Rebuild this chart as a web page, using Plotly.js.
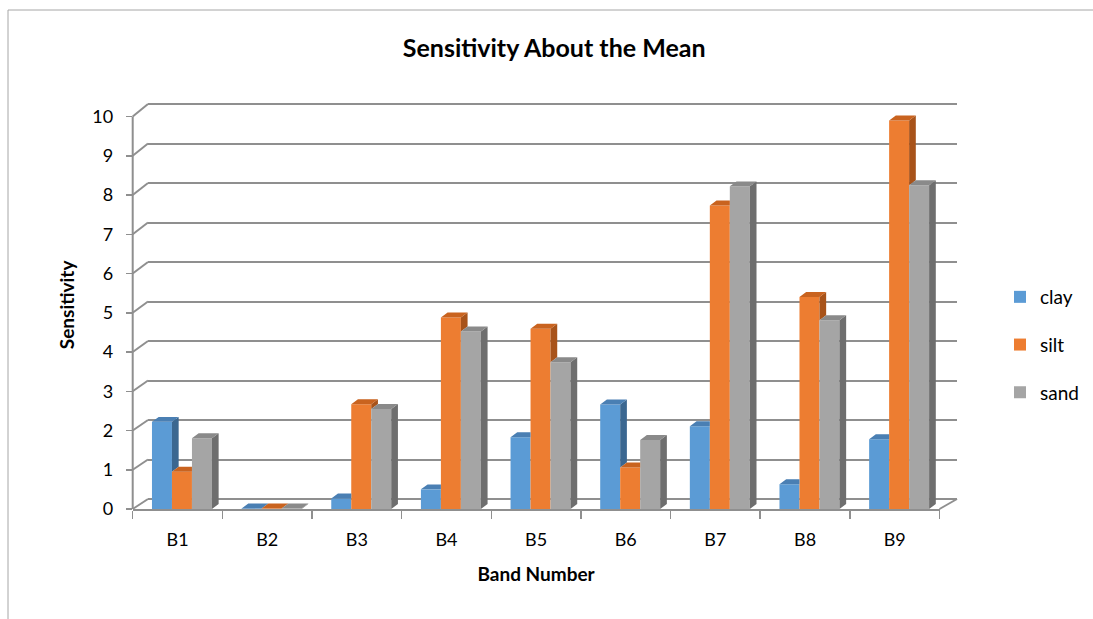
<!DOCTYPE html>
<html>
<head>
<meta charset="utf-8">
<script src="https://cdn.plot.ly/plotly-3.0.1.min.js"></script>
<style>html,body{margin:0;padding:0;background:#fff;}#chart{width:1093px;height:619px;}</style>
</head>
<body>
<div id="chart"></div>
<script>
// ---- data ----
const categories = ['B1', 'B2', 'B3', 'B4', 'B5', 'B6', 'B7', 'B8', 'B9'];
const clay = [2.22, 0.01, 0.27, 0.50, 1.83, 2.66, 2.11, 0.63, 1.78];
const silt = [0.95, 0.01, 2.67, 4.88, 4.59, 1.06, 7.73, 5.40, 9.90];
const sand = [1.80, 0.01, 2.55, 4.52, 3.74, 1.76, 8.22, 4.81, 8.25];
const seriesNames = ['clay', 'silt', 'sand'];
const yTicks = [0, 1, 2, 3, 4, 5, 6, 7, 8, 9, 10];

// ---- styling ----
const W = 1093, H = 619;
const frontColors = ['#5b9bd5', '#ed7d31', '#a5a5a5'];
const topColors = ['#4a7fb3', '#c9631f', '#8a8a8a'];
const sideColors = ['#3b6790', '#a8531a', '#6e6e6e'];
const gridColor = '#8f8f8f';
const fontFam = 'Lato, "Liberation Sans", sans-serif';

const fx = p => p / W;
const fy = p => 1 - p / H;

// front (bars) plot area in pixels
const FX0 = 132.7, FX1 = 939.5, FY0 = 509, FYU = 39.25; // px per unit
const YMAX = 10.4;
// back wall plot area in pixels
const BX0 = 148, BX1 = 957, BY0 = 499, BY10 = 104;
const BPAD = 0.2;
const BYU = (BY0 - BY10) / 10;

const barW = 0.223;
const offsets = [-0.285, -0.062, 0.161];
const DX = 0.0747, DY = 0.127;

const allVals = [clay, silt, sand];
const xIdx = categories.map((c, i) => i);

const traces = [];
traces.push({x: [null], y: [null], type: 'scatter', mode: 'lines', xaxis: 'x', yaxis: 'y', showlegend: false, hoverinfo: 'skip'});

allVals.forEach((vals, s) => {
  traces.push({
    type: 'bar', name: seriesNames[s], x: xIdx, y: vals,
    xaxis: 'x2', yaxis: 'y2', width: barW, offset: offsets[s],
    marker: {color: frontColors[s], line: {width: 0}},
    legendgroup: seriesNames[s], hoverinfo: 'y+name'
  });
});

allVals.forEach((vals, s) => {
  const tx = [], ty = [], sx = [], sy = [];
  vals.forEach((v, i) => {
    const xl = i + offsets[s], xr = xl + barW;
    const last = s === allVals.length - 1;
    const next = last ? 0 : allVals[s + 1][i];
    if (!last && next > v) {
      tx.push(xl, xl + DX, xr, xr, xl, null);
      ty.push(v, v + DY, v + DY, v, v, null);
    } else {
      tx.push(xl, xl + DX, xr + DX, xr, xl, null);
      ty.push(v, v + DY, v + DY, v, v, null);
    }
    if (last || next < v) {
      const low = last ? 0 : Math.max(next, 0);
      sx.push(xr, xr, xr + DX, xr + DX, xr, null);
      sy.push(low, v, v + DY, low + DY, low, null);
    }
  });
  traces.push({x: sx, y: sy, type: 'scatter', mode: 'lines', fill: 'toself', fillcolor: sideColors[s],
    line: {width: 0, color: sideColors[s]}, xaxis: 'x2', yaxis: 'y2', showlegend: false, hoverinfo: 'skip'});
  traces.push({x: tx, y: ty, type: 'scatter', mode: 'lines', fill: 'toself', fillcolor: topColors[s],
    line: {width: 0, color: topColors[s]}, xaxis: 'x2', yaxis: 'y2', showlegend: false, hoverinfo: 'skip'});
});

const shapes = [];
shapes.push({type: 'line', xref: 'paper', yref: 'paper', x0: fx(8), x1: 1, y0: fy(10), y1: fy(10), line: {color: '#a6a6a6', width: 1}});
shapes.push({type: 'line', xref: 'paper', yref: 'paper', x0: fx(8), x1: fx(8), y0: fy(10), y1: 0, line: {color: '#a6a6a6', width: 1}});
shapes.push({type: 'line', xref: 'paper', yref: 'paper', x0: fx(FX0), x1: fx(FX0), y0: fy(FY0), y1: fy(FY0 - 10 * FYU), line: {color: gridColor, width: 2}});
yTicks.forEach(k => {
  const yf = FY0 - k * FYU;
  const yb = BY0 - k * BYU;
  shapes.push({type: 'line', xref: 'paper', yref: 'paper', x0: fx(FX0), x1: fx(BX0), y0: fy(yf), y1: fy(yb), line: {color: gridColor, width: 2}});
});
shapes.push({type: 'line', xref: 'paper', yref: 'paper', x0: fx(FX1), x1: fx(BX1), y0: fy(FY0), y1: fy(BY0), line: {color: gridColor, width: 2}});

const boundaries = categories.map((c, i) => i - 0.5).concat([categories.length - 0.5]);

const layout = {
  width: W, height: H,
  margin: {l: 0, r: 0, t: 0, b: 0},
  paper_bgcolor: '#ffffff', plot_bgcolor: 'rgba(0,0,0,0)',
  font: {family: fontFam, size: 18, color: '#000'},
  title: {text: 'Sensitivity About the Mean', font: {family: fontFam, size: 25, weight: 'bold', color: '#000'},
    x: 0.507, xanchor: 'center', y: fy(48), yanchor: 'middle'},
  barmode: 'overlay',
  showlegend: true,
  legend: {x: fx(1000), xanchor: 'left', y: fy(345), yanchor: 'middle', tracegroupgap: 20,
    font: {family: fontFam, size: 19, color: '#000'}, bgcolor: 'rgba(0,0,0,0)'},
  xaxis: {domain: [fx(BX0), fx(BX1)], range: [0, 1], visible: false, fixedrange: true},
  yaxis: {domain: [fy(BY0 + BPAD * BYU), fy(BY10 - BPAD * BYU)], range: [-BPAD, 10 + BPAD], tickmode: 'array', tickvals: yTicks,
    showticklabels: false, ticks: '', showgrid: true, gridcolor: gridColor, gridwidth: 2,
    zeroline: false, showline: false, anchor: 'x', fixedrange: true},
  xaxis2: {domain: [fx(FX0), fx(FX1)], range: [-0.5, categories.length - 0.5], anchor: 'y2',
    tickmode: 'array', tickvals: xIdx, ticktext: categories,
    ticks: 'outside', ticklen: 13, tickcolor: 'rgba(0,0,0,0)',
    minor: {tickmode: 'array', tickvals: boundaries, ticks: 'outside', ticklen: 8, tickcolor: gridColor, tickwidth: 1.5, showgrid: false},
    showgrid: false, zeroline: false, showline: true, linecolor: gridColor, linewidth: 2,
    tickfont: {family: fontFam, size: 18, color: '#000'},
    title: {text: 'Band Number', font: {family: fontFam, size: 19, weight: 'bold', color: '#000'}, standoff: 19},
    fixedrange: true},
  yaxis2: {domain: [fy(FY0), fy(FY0 - YMAX * FYU)], range: [0, YMAX], anchor: 'x2',
    tickmode: 'array', tickvals: yTicks, ticks: 'outside', ticklen: 6, tickcolor: gridColor, tickwidth: 1.5,
    ticklabelstandoff: 9,
    showgrid: false, zeroline: false, showline: false,
    tickfont: {family: fontFam, size: 18, color: '#000'},
    title: {text: 'Sensitivity', font: {family: fontFam, size: 19, weight: 'bold', color: '#000'}, standoff: 12},
    fixedrange: true},
  shapes: shapes
};

Plotly.newPlot('chart', traces, layout, {displayModeBar: false, staticPlot: true});
</script>
</body>
</html>
